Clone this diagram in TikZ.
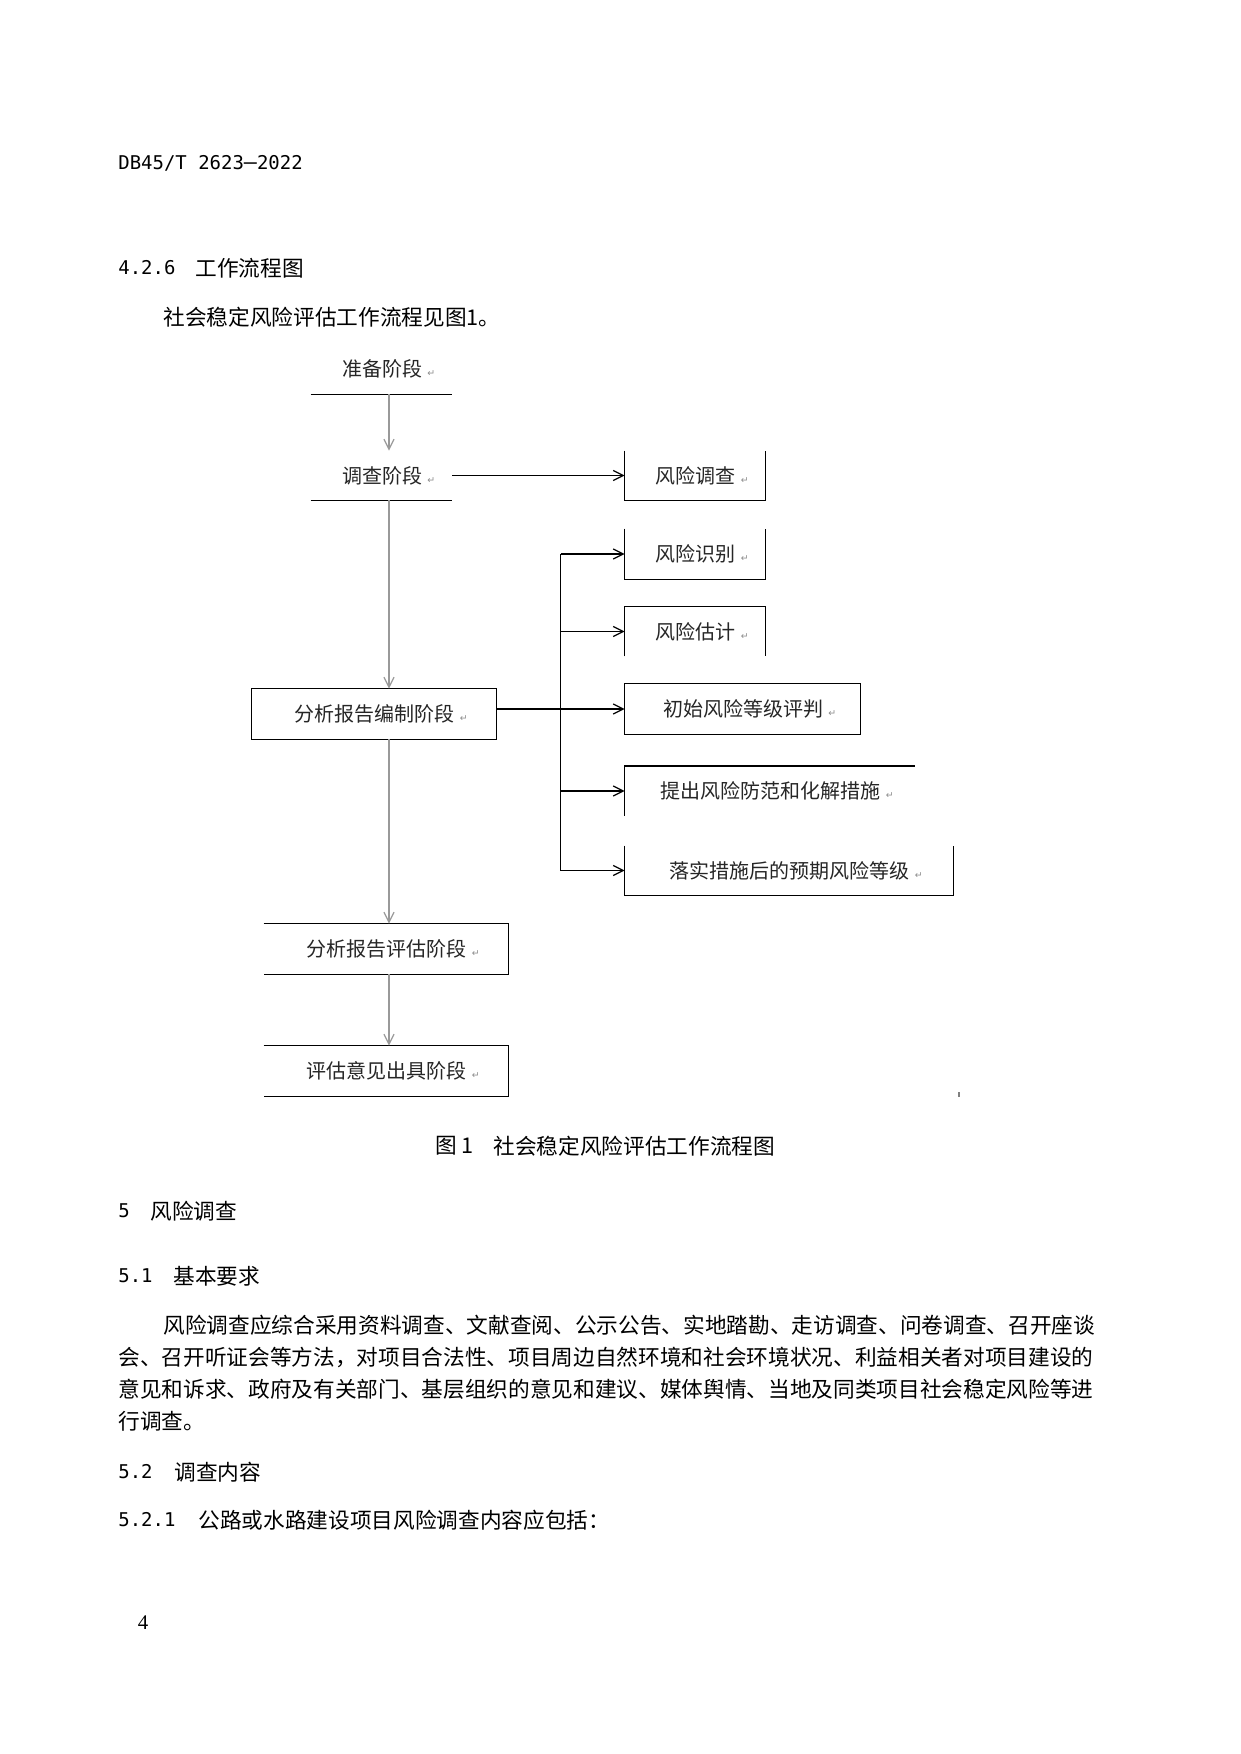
\documentclass[tikz,border=0pt]{standalone}
\usepackage{fontspec}
\setmainfont{Noto Sans CJK SC}
\newfontfamily\cjkf{Noto Sans CJK SC}
\newfontfamily\monof{DejaVu Sans Mono}
\newfontfamily\symf{DejaVu Sans}
\newfontfamily\serf{Liberation Serif}
\usetikzlibrary{arrows.meta}
\newcommand\bodysz{\fontsize{10.4pt}{12.5pt}\selectfont}
\newcommand\monosz{\monof\fontsize{9.1pt}{10.5pt}\selectfont}
\newcommand\diagsz{\fontsize{9.6pt}{11pt}\selectfont}
\newcommand\retmark{\hspace{2.5pt}{\symf\fontsize{4.5pt}{5pt}\selectfont\color{black!45}↵}}
\newcommand\lead{\hspace{7pt}}
\begin{document}
\begin{tikzpicture}[x=0.48pt,y=-0.48pt,
  flowbox/.style={inner sep=0pt, font=\diagsz, text=black!85},
  boxline/.style={line width=0.6pt, black},
  blackarrow/.style={line width=0.6pt, black, -{Straight Barb[length=4.8pt,width=4.8pt,line width=0.6pt]}},
  grayarrow/.style={line width=0.6pt, black!40, -{Straight Barb[length=4.8pt,width=4.8pt,line width=0.6pt]}},
  plaintext/.style={inner sep=0pt, anchor=west, font=\bodysz},
  monotext/.style={inner sep=0pt, anchor=west, font=\monosz}]
\useasboundingbox[fill=white] (0,0) rectangle (1241,1754);

% ---------- page text ----------
\node[inner sep=0pt, anchor=west] (hdr) at (118,163) {\monosz DB45/T 2623{\bodysz —}\monosz 2022};
\node[monotext] (h426) at (118,268) {4.2.6};
\node[plaintext] (h426t) at (195,268) {工作流程图};
\node[plaintext] (intro) at (163,317) {社会稳定风险评估工作流程见图1。};

% ---------- diagram boxes ----------
\node[flowbox, minimum width=141*0.48pt, minimum height=50*0.48pt] (zb) at (381.5,369) {\lead 准备阶段\retmark};
\node[flowbox, minimum width=141*0.48pt, minimum height=49*0.48pt] (dc) at (381.5,475.5) {\lead 调查阶段\retmark};
\node[flowbox, minimum width=140*0.48pt, minimum height=49*0.48pt] (fxdc) at (695,475.5) {\lead 风险调查\retmark};
\node[flowbox, minimum width=140*0.48pt, minimum height=50*0.48pt] (fxsb) at (695,554) {\lead 风险识别\retmark};
\node[flowbox, minimum width=140*0.48pt, minimum height=49*0.48pt] (fxgj) at (695,631.5) {\lead 风险估计\retmark};
\node[flowbox, minimum width=235*0.48pt, minimum height=50*0.48pt] (cs) at (742.5,709) {\lead 初始风险等级评判\retmark};
\node[flowbox, minimum width=244*0.48pt, minimum height=50*0.48pt] (fx) at (374,714) {\lead 分析报告编制阶段\retmark};
\node[flowbox, minimum width=290*0.48pt, minimum height=49*0.48pt] (tc) at (770,791) {\lead 提出风险防范和化解措施\retmark};
\node[flowbox, minimum width=328*0.48pt, minimum height=49*0.48pt] (ls) at (789,870.5) {\lead 落实措施后的预期风险等级\retmark};
\node[flowbox, minimum width=244*0.48pt, minimum height=50*0.48pt] (pg) at (386,949) {\lead 分析报告评估阶段\retmark};
\node[flowbox, minimum width=244*0.48pt, minimum height=50*0.48pt] (yj) at (386,1071) {\lead 评估意见出具阶段\retmark};

% visible box edges (as in the scanned figure)
\draw[boxline] (zb.south west) -- (zb.south east);
\draw[boxline] (dc.south west) -- (dc.south east);
\draw[boxline] (fxdc.north west) -- (fxdc.south west) -- (fxdc.south east) -- (fxdc.north east);
\draw[boxline] (fxsb.north west) -- (fxsb.south west) -- (fxsb.south east) -- (fxsb.north east);
\draw[boxline] (fxgj.south west) -- (fxgj.north west) -- (fxgj.north east) -- (fxgj.south east);
\draw[boxline] (cs.north west) rectangle (cs.south east);
\draw[boxline] (fx.north west) rectangle (fx.south east);
\draw[boxline] (tc.south west) -- (tc.north west) -- (tc.north east);
\draw[boxline] (ls.north west) -- (ls.south west) -- (ls.south east) -- (ls.north east);
\draw[boxline] (pg.north west) -- (pg.north east) -- (pg.south east) -- (pg.south west);
\draw[boxline] (yj.north west) -- (yj.north east) -- (yj.south east) -- (yj.south west);

% ---------- connectors ----------
\coordinate (sp) at (389,0);
\coordinate (tr) at (560.5,0);
\draw[grayarrow] (zb.south -| sp) -- (dc.north -| sp);
\draw[grayarrow] (dc.south -| sp) -- (fx.north -| sp);
\draw[grayarrow] (fx.south -| sp) -- (pg.north -| sp);
\draw[grayarrow] (pg.south -| sp) -- (yj.north -| sp);
\draw[blackarrow] (dc.east) -- (fxdc.west);
\draw[blackarrow] (cs.west -| fx.east) -- (cs.west);
\draw[boxline] (tr |- fxsb.west) -- (tr |- ls.west);
\draw[blackarrow] (tr |- fxsb.west) -- (fxsb.west);
\draw[blackarrow] (tr |- fxgj.west) -- (fxgj.west);
\draw[blackarrow] (tr |- tc.west) -- (tc.west);
\draw[blackarrow] (tr |- ls.west) -- (ls.west);
\coordinate (speck) at (959,1092);
\draw[line width=0.5pt, black!50] (speck) -- ++(0,5);

% ---------- caption and following text ----------
\node[plaintext] (cap1) at (435,1146) {图\hspace{2pt}1};
\node[plaintext] (cap2) at (493,1146) {社会稳定风险评估工作流程图};
\node[monotext] (s5) at (118,1211) {5};
\node[plaintext] (s5t) at (150,1211) {风险调查};
\node[monotext] (s51) at (118,1276) {5.1};
\node[plaintext] (s51t) at (173,1276) {基本要求};
\node[plaintext] (p1) at (163,1325) {风险调查应综合采用资料调查、文献查阅、公示公告、实地踏勘、走访调查、问卷调查、召开座谈};
\node[plaintext] (p2) at (118,1357) {会、召开听证会等方法，对项目合法性、项目周边自然环境和社会环境状况、利益相关者对项目建设的};
\node[plaintext] (p3) at (118,1389) {意见和诉求、政府及有关部门、基层组织的意见和建议、媒体舆情、当地及同类项目社会稳定风险等进};
\node[plaintext] (p4) at (118,1421) {行调查。};
\node[monotext] (s52) at (118,1472) {5.2};
\node[plaintext] (s52t) at (174,1472) {调查内容};
\node[monotext] (s521) at (118,1520) {5.2.1};
\node[plaintext] (s521t) at (198,1520) {公路或水路建设项目风险调查内容应包括：};
\node[inner sep=0pt, font=\serf\fontsize{10pt}{12pt}\selectfont] (pgno) at (143,1623) {4};
\end{tikzpicture}
\end{document}
